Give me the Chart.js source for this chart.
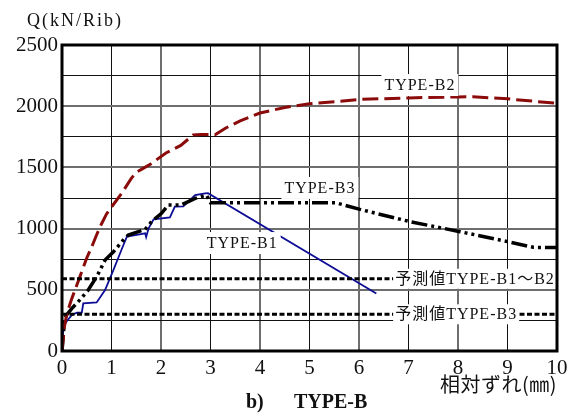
<!DOCTYPE html>
<html>
<head>
<meta charset="utf-8">
<script src="https://cdn.jsdelivr.net/npm/chart.js@4"></script>
<style>
  html, body { margin: 0; padding: 0; background: #fff; }
  #chart { display: block; }
</style>
</head>
<body>
<canvas id="chart" width="568" height="413"></canvas>
<script>
// relative slip (mm) / shear per rib (kN)
const b1X = [0, 0.03, 0.09, 0.2, 0.3, 0.4, 0.43, 0.7, 0.87, 1.04, 1.2, 1.31, 1.68, 1.7, 1.75, 1.85, 2.18, 2.28, 2.45, 2.69, 2.89, 2.95, 6.35];
const b1Y = [0, 200, 240, 294, 313, 313, 389, 397, 498, 662, 825, 934, 961, 930, 1002, 1076, 1092, 1179, 1182, 1274, 1288, 1290, 470];

const b2X = [0, 0.05, 0.1, 0.2, 0.3, 0.4, 0.5, 0.6, 0.7, 0.8, 0.9, 1.0, 1.2, 1.4, 1.5, 1.64, 1.8, 2.1, 2.4, 2.65, 2.8, 3.1, 3.3, 3.6, 4.0, 4.5, 5.0, 5.6, 6.0, 7.0, 8.0, 8.3, 9.0, 10];
const b2Y = [0, 200, 310, 430, 540, 650, 760, 850, 950, 1040, 1120, 1176, 1285, 1410, 1460, 1492, 1530, 1618, 1680, 1765, 1768, 1768, 1820, 1880, 1944, 1990, 2020, 2040, 2055, 2068, 2076, 2078, 2060, 2023];

const b3X = [0, 0.05, 0.09, 0.2, 0.36, 0.53, 0.7, 0.87, 1.04, 1.24, 1.34, 1.68, 1.81, 2.01, 2.15, 2.41, 2.69, 2.92, 3.0, 5.52, 6.02, 7.03, 8.04, 9.01, 9.52, 10];
const b3Y = [0, 250, 294, 348, 417, 498, 607, 743, 811, 907, 948, 993, 1057, 1125, 1193, 1193, 1247, 1274, 1212, 1212, 1157, 1057, 975, 893, 847, 845];

// predicted strengths
const predNames = ['予測値TYPE-B1～B2', '予測値TYPE-B3'];
const predValues = [590, 300];

const xRange = [0, 10];
const yRange = [0, 2500];

const toPoints = (xs, ys) => xs.map((x, i) => ({ x: x, y: ys[i] }));

const serif = '"Liberation Serif", "Noto Sans CJK JP", serif';

// text labels placed in data coordinates
const curveLabels = [
  { text: 'TYPE-B2', x: 7.23, y: 2173 },
  { text: 'TYPE-B3', x: 5.21, y: 1332 },
  { text: 'TYPE-B1', x: 3.64, y: 882 },
];

const labelPlugin = {
  id: 'labels',
  afterDatasetsDraw(chart) {
    const { ctx, scales: { x, y } } = chart;
    ctx.save();
    ctx.font = '16px ' + serif;
    ctx.letterSpacing = '1px';
    ctx.textBaseline = 'middle';
    ctx.textAlign = 'center';
    curveLabels.forEach((l) => {
      const px = x.getPixelForValue(l.x);
      const py = y.getPixelForValue(l.y);
      const w = ctx.measureText(l.text).width + 6;
      ctx.fillStyle = '#fff';
      ctx.fillRect(px - w / 2, py - 11, w, 22);
      ctx.fillStyle = '#111';
      ctx.fillText(l.text, px, py + 1);
    });
    ctx.textAlign = 'left';
    predNames.forEach((name, i) => {
      const px = x.getPixelForValue(6.73);
      const py = y.getPixelForValue(predValues[i]);
      const w = ctx.measureText(name).width + 4;
      ctx.fillStyle = '#fff';
      ctx.fillRect(px - 2, py - 10, w, 20);
      ctx.fillStyle = '#111';
      ctx.fillText(name, px, py + 1);
    });
    ctx.restore();
  },
  afterDraw(chart) {
    const { ctx, chartArea: a } = chart;
    ctx.save();
    ctx.strokeStyle = '#000';
    ctx.lineWidth = 3;
    ctx.strokeRect(a.left, a.top, a.right - a.left, a.bottom - a.top);

    ctx.fillStyle = '#111';
    ctx.textBaseline = 'middle';
    ctx.font = '18px ' + serif;
    ctx.letterSpacing = '2px';
    ctx.textAlign = 'left';
    ctx.fillText('Q(kN/Rib)', 27, 21);

    ctx.letterSpacing = '0.5px';
    ctx.font = '20px "Noto Sans CJK JP", sans-serif';
    ctx.textAlign = 'right';
    ctx.fillText('相対ずれ(㎜)', a.right, 384);

    ctx.letterSpacing = '0px';
    ctx.font = 'bold 20px "Liberation Serif", serif';
    ctx.textAlign = 'left';
    ctx.fillText('b)', 246, 403);
    ctx.fillText('TYPE-B', 294, 403);
    ctx.restore();
  },
};

const gridColor = (ctx) => (ctx.index % 2 === 0 ? '#6e6e6e' : '#111');
const gridWidth = (ctx) => (ctx.index % 2 === 0 ? 2 : 1);

const seriesLine = (xs, ys, color, width, dash) => ({
  data: toPoints(xs, ys),
  borderColor: color,
  borderWidth: width,
  borderDash: dash,
  pointRadius: 0,
  tension: 0,
  fill: false,
});

new Chart(document.getElementById('chart').getContext('2d'), {
  type: 'line',
  data: {
    datasets: [
      ...predValues.map((v) => seriesLine(xRange, [v, v], '#000', 3, [5, 2.5])),
      seriesLine(b2X, b2Y, '#8b0a0a', 3, [16, 6]),
      seriesLine(b3X, b3Y, '#000', 3.5, [16, 4, 3, 4, 3, 4]),
      seriesLine(b1X, b1Y, '#0d0d96', 1.8, []),
    ],
  },
  options: {
    responsive: false,
    animation: false,
    layout: { padding: { top: 45, right: 11, left: 0, bottom: 0 } },
    plugins: {
      legend: { display: false },
      title: { display: false },
      tooltip: { enabled: false },
    },
    scales: {
      x: {
        type: 'linear',
        min: xRange[0],
        max: xRange[1],
        afterFit: (s) => {
          s.height = 62;
          s.paddingLeft = 0;
          s.paddingRight = 0;
        },
        border: { display: false },
        grid: { color: gridColor, lineWidth: gridWidth, drawTicks: false },
        ticks: {
          stepSize: 1,
          padding: 5,
          color: '#111',
          font: { size: 21, family: '"Liberation Serif", serif' },
          maxRotation: 0,
        },
      },
      y: {
        type: 'linear',
        min: yRange[0],
        max: yRange[1],
        afterFit: (s) => {
          s.width = 62;
          s.paddingTop = 0;
          s.paddingBottom = 0;
        },
        border: { display: false },
        grid: { color: gridColor, lineWidth: gridWidth, drawTicks: false },
        ticks: {
          stepSize: 250,
          padding: 4,
          color: '#111',
          font: { size: 21, family: '"Liberation Serif", serif' },
          callback: (v) => (v % 500 === 0 ? String(v) : ''),
        },
      },
    },
  },
  plugins: [labelPlugin],
});
</script>
</body>
</html>
